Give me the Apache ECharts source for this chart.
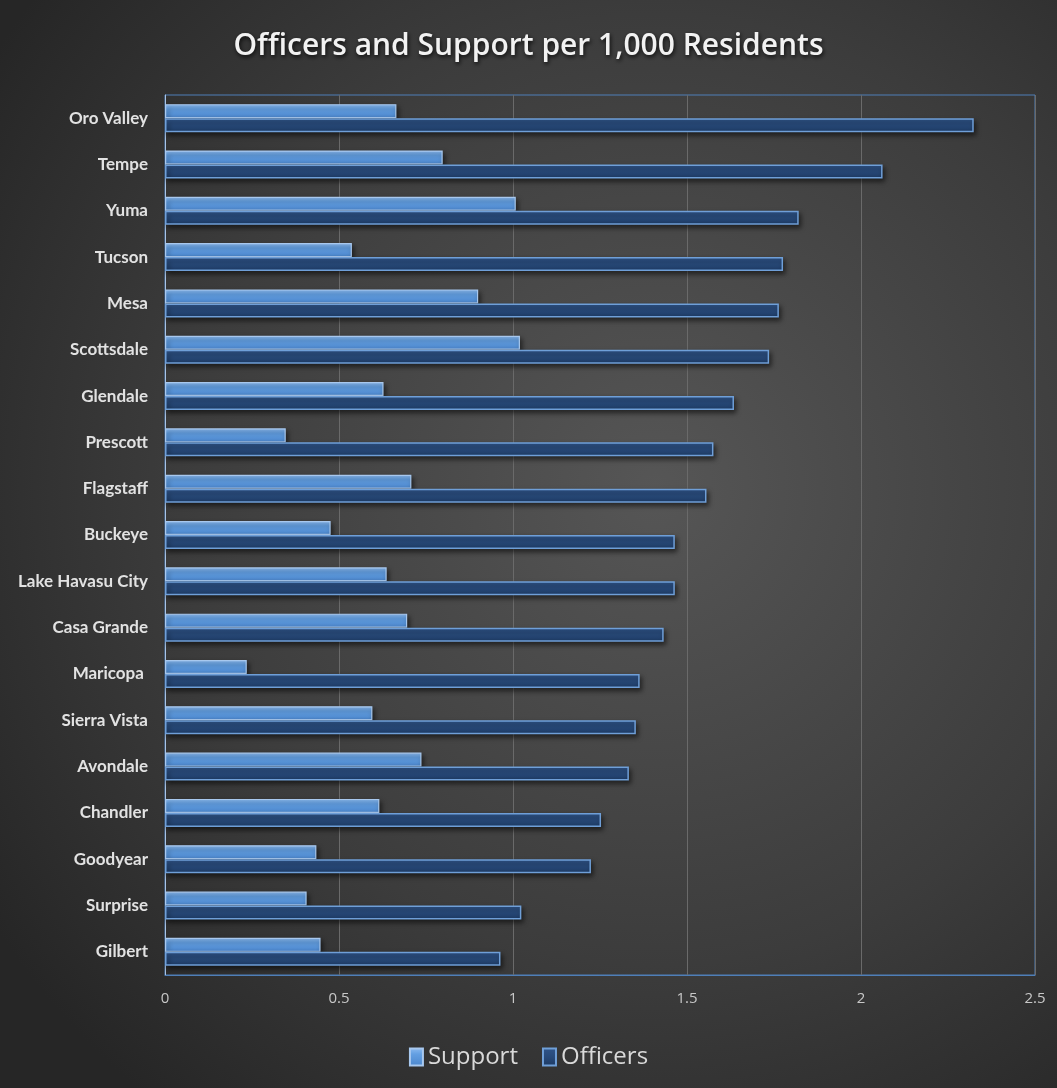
<!DOCTYPE html>
<html>
<head>
<meta charset="utf-8">
<script src="https://cdn.jsdelivr.net/npm/echarts@6/dist/echarts.min.js"></script>
<style>
html,body{margin:0;padding:0;background:#2a2a2a;}
#chart{width:1057px;height:1088px;}
</style>
</head>
<body>
<div id="chart"></div>
<script>
const cities = ['Oro Valley','Tempe','Yuma','Tucson','Mesa','Scottsdale','Glendale','Prescott','Flagstaff','Buckeye','Lake Havasu City','Casa Grande','Maricopa ','Sierra Vista','Avondale','Chandler','Goodyear','Surprise','Gilbert'];
const support = [0.665,0.798,1.008,0.537,0.900,1.020,0.628,0.347,0.708,0.476,0.637,0.696,0.235,0.596,0.737,0.616,0.435,0.407,0.447];
const officers = [2.324,2.062,1.821,1.776,1.764,1.736,1.635,1.576,1.556,1.465,1.465,1.433,1.364,1.353,1.333,1.253,1.224,1.024,0.964];
const xTicks = [0,0.5,1,1.5,2,2.5];

const chart = echarts.init(document.getElementById('chart'));
chart.setOption({
  backgroundColor: {
    type:'radial', x:0.62, y:0.45, r:0.75,
    colorStops:[{offset:0,color:'#565656'},{offset:0.6,color:'#3c3c3c'},{offset:1,color:'#262626'}]
  },
  title:{
    text:'Officers and Support per 1,000 Residents',
    left:'center', top:26,
    textStyle:{color:'#f2f2f2',fontSize:30,fontWeight:600,fontFamily:'Open Sans',
      textShadowColor:'rgba(0,0,0,0.8)',textShadowBlur:4,textShadowOffsetX:1,textShadowOffsetY:2}
  },
  grid:{left:165,right:22,top:95,bottom:113,show:true,borderColor:'#4f7fb8',borderWidth:1,backgroundColor:'transparent'},
  legend:{
    bottom:14,left:'center',icon:'rect',itemWidth:13,itemHeight:17,itemGap:24,
    textStyle:{color:'#d9d9d9',fontSize:24,fontFamily:'Open Sans'},
    data:['Support','Officers']
  },
  xAxis:{
    type:'value',min:xTicks[0],max:xTicks[xTicks.length-1],interval:0.5,
    axisLine:{show:true,lineStyle:{color:'#4f7fb8'}},
    axisTick:{show:false},
    axisLabel:{color:'#c8c8c8',fontSize:15,fontFamily:'Open Sans',margin:16},
    splitLine:{show:true,lineStyle:{color:'#6a6a6a',width:1}}
  },
  yAxis:{
    type:'category',data:cities,inverse:true,
    axisLine:{show:true,lineStyle:{color:'#a9c4e6',width:1}},
    axisTick:{show:false},
    axisLabel:{color:'#e2e2e2',fontSize:17,fontWeight:'bold',fontFamily:'Lato',margin:17}
  },
  series:[
    {
      name:'Support',type:'bar',data:support,barWidth:14,barGap:'0%',
      itemStyle:{
        color:{type:'linear',x:0,y:0,x2:0,y2:1,colorStops:[{offset:0,color:'#8ebcf0'},{offset:0.35,color:'#639fe2'},{offset:1,color:'#4b86cc'}]},
        borderColor:'#a8c8ee',borderWidth:1.2,
        shadowColor:'rgba(0,0,0,0.55)',shadowBlur:5,shadowOffsetX:2,shadowOffsetY:3
      }
    },
    {
      name:'Officers',type:'bar',data:officers,barWidth:14,barGap:'0%',
      itemStyle:{
        color:{type:'linear',x:0,y:0,x2:0,y2:1,colorStops:[{offset:0,color:'#30558a'},{offset:0.5,color:'#284a7a'},{offset:1,color:'#1d3a63'}]},
        borderColor:'#6f9fd8',borderWidth:1.5,
        shadowColor:'rgba(0,0,0,0.55)',shadowBlur:5,shadowOffsetX:2,shadowOffsetY:3
      }
    }
  ]
});
</script>
</body>
</html>
